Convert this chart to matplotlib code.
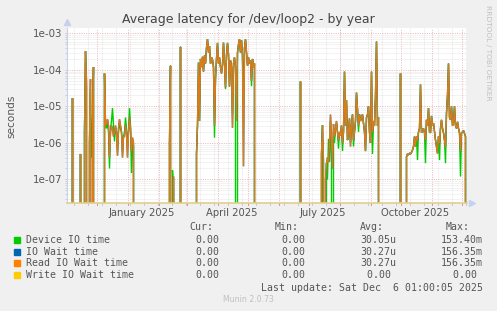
import numpy as np
import matplotlib
matplotlib.use("Agg")
import matplotlib.pyplot as plt
import matplotlib.dates as mdates
from matplotlib.ticker import LogLocator, NullFormatter
from datetime import datetime, timedelta

# ---------------- data (one value per day, 400 days) ----------------
N_DAYS = 400
end_time = datetime(2025, 12, 6, 1, 0, 5)
start_time = end_time - timedelta(days=N_DAYS)

# bursts of Read IO wait time (seconds); first day index -> consecutive daily values
burst_starts = [5, 13, 17, 37, 102, 113, 129, 233, 254, 333, 339]
burst_nov = [1.7e-5]
burst_nov2 = [5e-7]
burst_nov3 = [2e-6, 3.3e-4, 5e-5, 0, 0, 1e-6, 5.6e-5, 0, 3e-6, 1.2e-4]
burst_dec = [8e-5, 3e-6,
             3.5e-6, 4.5e-6, 3e-6, 4e-7, 2e-6, 3e-6, 2.5e-6, 1.5e-6, 2e-6, 3e-6,
             2e-6, 4.5e-7, 2.5e-6, 4.5e-6, 3e-6, 2e-6, 4e-7, 1.5e-6, 1.5e-6, 3e-6,
             2e-6, 4e-7, 2e-6, 5e-6, 2.5e-6, 6e-7, 1.4e-6, 1e-6]
burst_feb = [1e-6, 1.3e-4, 0, 0, 1.2e-7]
burst_feb2 = [4.3e-4]
burst_mar_may = [5e-7, 3e-6, 1.6e-4, 4e-6, 2e-4, 1.2e-4, 2.3e-4, 9e-5, 2.5e-4, 1.5e-4,
                 4e-4, 7e-4, 3e-4, 4.5e-4, 1.5e-4, 2.2e-4, 1.9e-4, 1.2e-4, 3e-6, 6e-5,
                 2e-4, 5.5e-4, 1.5e-4, 2.2e-4, 1.2e-4, 8e-5, 1.4e-4, 5.6e-4, 1.5e-4, 3.3e-5,
                 2.5e-4, 5.5e-4, 2.7e-4, 3.5e-5, 1.8e-4, 1.2e-4, 2.6e-6, 1.5e-4, 2.2e-4, 1.2e-4,
                 4e-6, 3e-4, 5e-4, 7e-4, 3e-4, 6.5e-4, 2.5e-4, 2.3e-7, 4e-4, 7e-4,
                 3e-4, 1.3e-4, 2.2e-4, 1.5e-4, 1.8e-4, 5e-5, 2e-4, 1.2e-4, 1.5e-4]
burst_jun = [4.8e-5]
burst_jul_sep = [5e-7, 3.1e-6, 3e-7, 0, 1e-7, 2.8e-7, 4e-7, 3e-7, 1e-6, 6e-6,
                 1e-6, 2e-7, 3.3e-6, 1.5e-6, 2.5e-6, 4e-6, 2e-6, 1.2e-6, 2e-6, 1.6e-6,
                 3e-6, 1e-6, 2e-6, 9e-5, 3e-6, 1.5e-5, 1.2e-6, 2e-6, 4.7e-6, 8e-7,
                 3e-6, 6e-6, 1.2e-6, 2e-6, 4e-6, 2.4e-5, 8e-6, 3e-6, 6e-6, 4e-6,
                 5e-6, 6e-6, 3.5e-6, 2e-6, 6e-7, 5e-6, 6e-6, 1e-5, 2e-6, 1e-6,
                 9e-5, 2e-6, 4e-6, 3e-6, 2e-5, 6e-4, 3e-6, 5e-6]
burst_sep = [8e-5]
burst_oct_dec = [4.2e-7, 5e-7, 4.8e-7, 5.2e-7, 5e-7, 5.5e-7, 6.4e-7, 8e-7, 1.5e-6, 8e-7,
                 1.5e-6, 1.2e-6, 2e-6, 2.5e-6, 4e-5, 1.9e-6, 2.3e-6, 2.5e-6, 1.9e-6, 1.2e-6,
                 4.3e-6, 3e-6, 9e-6, 2e-6, 1.9e-6, 5.5e-6, 3e-6, 3.5e-6, 2e-6, 1.2e-6,
                 8e-7, 5.2e-7, 1.5e-6, 1e-6, 2.5e-6, 4.3e-6, 2.5e-6, 1.9e-6, 1.2e-6, 8e-7,
                 6.5e-6, 2e-5, 1.5e-4, 5e-6, 4.3e-6, 1e-5, 3e-6, 3.5e-6, 1e-5, 3e-6,
                 2.5e-6, 3.8e-6, 2.5e-6, 1.9e-6, 6e-7, 1.9e-6, 2e-6, 2.2e-6, 1.8e-6, 1.5e-6]
read_bursts = [burst_nov, burst_nov2, burst_nov3, burst_dec, burst_feb, burst_feb2,
               burst_mar_may, burst_jun, burst_jul_sep, burst_sep, burst_oct_dec]

# days where Device IO time differs from the read wait time
device_diff_days = [19, 23, 24, 39, 40, 41, 42, 43, 44, 45, 46, 47, 48, 50, 51, 52, 53,
                    55, 57, 58, 59, 60, 62, 63, 64, 65, 66, 105, 106, 147, 158, 165,
                    169, 176, 184, 256, 258, 260, 261, 262, 263, 264, 265, 266, 267,
                    269, 271, 275, 283, 286, 291, 305, 350, 358, 372, 378, 393]
device_diff_vals = [3e-5, 3e-5, 4e-7, 2.5e-6, 4e-6, 2e-6, 2e-7, 2.5e-6, 4e-6, 9e-6, 3e-6,
                    1.1e-6, 2.5e-6, 6e-7, 2e-6, 3.5e-6, 2.5e-6, 6e-7, 2e-6, 5e-6, 2.5e-6,
                    7e-7, 9e-6, 3e-6, 1.5e-7, 1.2e-6, 8e-7, 1.8e-7, 5e-8, 1.4e-6, 3e-5,
                    6e-6, 0, 1e-5, 3.6e-5, 0, 0, 1e-7, 1.3e-6, 3e-7, 4e-6, 3e-7, 0,
                    2e-6, 1e-6, 3.5e-6, 7e-7, 6e-7, 1e-6, 8e-7, 2e-6, 5e-7, 3.4e-7,
                    2.8e-7, 3.4e-7, 2.8e-7, 1.2e-7]

series_names = ["Device IO time", "IO Wait time", "Read IO Wait time", "Write IO Wait time"]
series_colors = ["#00CC00", "#0066B3", "#FF8000", "#FFCC00"]
stat_cur = ["0.00", "0.00", "0.00", "0.00"]
stat_min = ["0.00", "0.00", "0.00", "0.00"]
stat_avg = ["30.05u", "30.27u", "30.27u", "0.00 "]
stat_max = ["153.40m", "156.35m", "156.35m", "0.00 "]

decades = [1e-7, 1e-6, 1e-5, 1e-4, 1e-3]
month_labels = ["January 2025", "April 2025", "July 2025", "October 2025"]
month_label_dates = [datetime(2025, 1, 15), datetime(2025, 4, 15),
                     datetime(2025, 7, 15), datetime(2025, 10, 15)]

# ---------------- build series ----------------
read = np.zeros(N_DAYS)
for s, vals in zip(burst_starts, read_bursts):
    read[s:s + len(vals)] = vals
device = read.copy()
device[device_diff_days] = device_diff_vals
io_wait = read.copy()
write = np.zeros(N_DAYS)

times = [start_time + timedelta(days=d + 0.5) for d in range(N_DAYS)]
xs = mdates.date2num(times)

# ---------------- figure ----------------
W, H = 497, 311
fig = plt.figure(figsize=(W / 100, H / 100), dpi=100, facecolor="#F0F0F0")
ax = fig.add_axes([67 / W, 1 - 203 / H, 400 / W, 175 / H])
ax.set_facecolor("white")

ax.set_yscale("log", nonpositive="clip")
ax.set_ylim(2.27e-8, 1.41e-3)
x0 = mdates.date2num(start_time)
x1 = mdates.date2num(end_time)
ax.set_xlim(x0, x1)

# grid
major_c = "#EBB4B4"
minor_c = "#DCDCDC"
dots = (0, (1, 1.4))
ax.set_yticks(decades, labels=[f"{v:.0e}" for v in decades])
ax.yaxis.set_minor_locator(LogLocator(base=10, subs=range(2, 10), numticks=20))
ax.yaxis.set_minor_formatter(NullFormatter())
ax.grid(which="minor", axis="y", color=minor_c, linestyle=dots, linewidth=0.6)
ax.grid(which="major", axis="y", color=major_c, linestyle=dots, linewidth=0.7)

# vertical grid: biweekly minor, monthly major
d = start_time.replace(hour=0, minute=0, second=0) + timedelta(days=7)
while d < end_time:
    ax.axvline(mdates.date2num(d), color=minor_c, linestyle=dots, linewidth=0.6, zorder=0.5)
    ax.plot([mdates.date2num(d)] * 2, [-0.012, 0], color="#C8C8C8", lw=0.7,
            transform=ax.get_xaxis_transform(), clip_on=False)
    d += timedelta(days=14)
m = datetime(2024, 12, 1)
while m < end_time:
    ax.axvline(mdates.date2num(m), color=major_c, linestyle=dots, linewidth=0.7, zorder=0.6)
    ax.plot([mdates.date2num(m)] * 2, [-0.014, 0], color="#E09090", lw=0.7,
            transform=ax.get_xaxis_transform(), clip_on=False)
    m = datetime(m.year + (m.month // 12), m.month % 12 + 1, 1)

ax.set_xticks(mdates.date2num(month_label_dates), labels=month_labels)
ax.tick_params(axis="x", length=0, pad=3.5, labelsize=7.2, labelcolor="#555555")
ax.tick_params(axis="y", which="both", length=1.5, width=0.6, color="#C8C8C8",
               pad=2, labelsize=7.4, labelcolor="#555555")

# series lines
line_alpha = [1.0, 1.0, 0.87, 1.0]
for vals, col, a in zip([device, io_wait, read, write], series_colors, line_alpha):
    ax.plot(xs, vals, color=col, linewidth=1.0, alpha=a, solid_joinstyle="miter")
ax.axhline(2.27e-8, color="#E0D08C", linewidth=1.2, zorder=5, clip_on=False)

for sp in ["top", "right", "bottom"]:
    ax.spines[sp].set_visible(False)
ax.spines["left"].set_color("#C8D0F0")
ax.spines["left"].set_linewidth(0.8)

# axis arrows
ax.plot([0], [1.035], marker="^", markersize=4, color="#C8D0F0",
        transform=ax.transAxes, clip_on=False)
ax.plot([1.013], [0], marker=">", markersize=4, color="#C8D0F0",
        transform=ax.transAxes, clip_on=False)

# texts
fig.text(248.5 / W, 1 - 20 / H, "Average latency for /dev/loop2 - by year",
         ha="center", va="center", fontsize=9, color="#444444")
fig.text(11 / W, 1 - 116 / H, "seconds", rotation=90, ha="center", va="center",
         fontsize=7.6, color="#555555")
fig.text(488 / W, 1 - 5 / H, "RRDTOOL / TOBI OETIKER", rotation=270, ha="center",
         va="top", fontsize=5.4, color="#C0C0C0")

mono = dict(family="DejaVu Sans Mono", fontsize=7.1, color="#555555")
hdr_y = 227
for label, xr in zip(["Cur:", "Min:", "Avg:", "Max:"], [213, 299, 384, 470]):
    fig.text(xr / W, 1 - hdr_y / H, label, ha="right", va="center", **mono)
rows_y = [240, 251.7, 263.3, 275.3]
for i, name in enumerate(series_names):
    y = 1 - rows_y[i] / H
    fig.patches.append(plt.Rectangle((14 / W, y - 3 / H), 6 / W, 6 / H,
                                     transform=fig.transFigure, color=series_colors[i]))
    fig.text(26 / W, y, name, ha="left", va="center", **mono)
    fig.text(219 / W, y, stat_cur[i], ha="right", va="center", **mono)
    fig.text(305.7 / W, y, stat_min[i], ha="right", va="center", **mono)
    fig.text(396.7 / W, y, stat_avg[i], ha="right", va="center", **mono)
    fig.text(482.7 / W, y, stat_max[i], ha="right", va="center", **mono)
fig.text(482.7 / W, 1 - 287.7 / H, "Last update: Sat Dec  6 01:00:05 2025",
         ha="right", va="center", **mono)
fig.text(248 / W, 1 - 299.3 / H, "Munin 2.0.73", ha="center", va="center",
         fontsize=5.6, color="#C0C0C0")

fig.savefig("out.png", dpi=100, facecolor=fig.get_facecolor())
